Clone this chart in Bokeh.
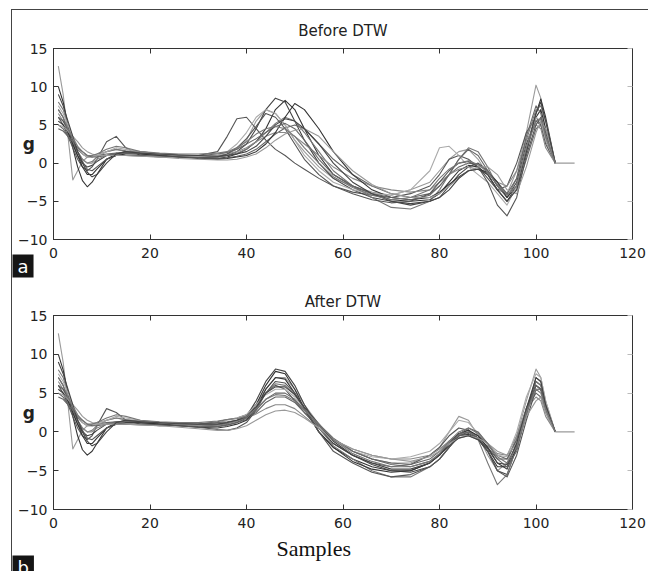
from bokeh.plotting import figure
from bokeh.layouts import column
from bokeh.models import LinearAxis, Range1d, FixedTicker, Title
from bokeh.embed import file_html
from bokeh.resources import INLINE

# ---------------- data ----------------
SAMPLES = [1, 2, 3, 4, 5, 6, 7, 8, 9, 11, 13, 15, 18, 22, 26, 30, 34, 36, 38, 40, 42, 44, 46, 48,
           50, 52, 55, 58, 62, 66, 70, 74, 78, 80, 82, 84, 86, 88, 90, 92, 94, 96, 98, 100, 101, 102, 104]
TAIL_X = [104, 108]
TAIL_Y = [0, 0]

X_TICKS = [0, 20, 40, 60, 80, 100, 120]
Y_TICKS = [-10, -5, 0, 5, 10, 15]

before_01 = [12.7, 9, 3.5, -2.2, -1.0, 0.2, 0.8, 1.0, 1.2, 1.5, 1.8, 1.5, 1.2, 1.0, 0.9, 0.8, 0.9, 1.2, 1.8, 3.0, 5.5, 7.0, 6.5, 5.0,
             3.0, 1.5, -0.5, -2.0, -3.0, -3.8, -4.2, -3.5, -2.5, -1.0, 0.5, 1.5, 1.8, 0.5, -1.5, -3.5, -4.0, -1.0, 4.0, 10.2, 8.5, 4.0, 0]
before_02 = [10, 8, 5, 2, -0.5, -2.3, -3.1, -2.5, -1.5, 0.5, 1.2, 1.5, 1.5, 1.2, 1.0, 0.8, 0.6, 0.8, 1.2, 1.8, 2.8, 4.5, 7.0, 8.2,
             7.0, 4.5, 1.0, -1.5, -3.0, -4.0, -4.8, -5.0, -4.8, -4.0, -2.5, -1.0, -0.3, -0.5, -1.5, -3.5, -5.0, -3.0, 2.0, 6.5, 8.4, 6.0, 0]
before_03 = [6, 5, 3.5, 2, 0.5, -0.5, -1.0, -0.5, 0.5, 2.8, 3.5, 2.0, 1.0, 0.8, 0.9, 1.0, 1.5, 3.5, 5.8, 6.0, 4.5, 3.0, 1.8, 1.0,
             0.0, -0.8, -2.0, -3.0, -3.8, -4.2, -4.5, -4.0, -3.0, -1.5, 0.5, 1.0, 0.5, -0.5, -2.0, -3.5, -3.0, 0.0, 4.0, 6.0, 5.0, 2.5, 0]
before_04 = [7, 6, 4, 2.5, 1.0, 0.0, -0.5, -0.3, 0.2, 1.0, 1.3, 1.3, 1.3, 1.1, 0.9, 0.8, 0.8, 1.0, 1.5, 2.5, 4.5, 7.0, 8.5, 8.0,
             5.5, 3.0, 0.0, -2.0, -3.5, -4.5, -5.0, -5.5, -5.0, -4.5, -3.0, -1.5, -0.5, 0.0, -1.0, -3.0, -4.5, -2.5, 2.5, 5.5, 5.0, 3.0, 0]
before_05 = [5, 4.5, 3.5, 2.5, 1.8, 1.2, 0.8, 0.8, 1.0, 1.2, 1.3, 1.3, 1.2, 1.0, 0.8, 0.7, 0.6, 0.7, 0.9, 1.2, 1.8, 2.8, 3.8, 4.6,
             5.0, 4.5, 2.5, 0.5, -1.5, -3.0, -4.0, -4.5, -4.0, -3.0, -1.5, -0.5, 0.0, -0.2, -1.0, -2.5, -4.0, -3.5, 0.5, 4.5, 5.0, 3.0, 0]
before_06 = [8, 7, 5, 3, 1.5, 0.5, 0.0, 0.2, 0.8, 1.5, 1.8, 1.6, 1.4, 1.2, 1.0, 0.9, 0.8, 1.0, 1.3, 1.8, 2.8, 4.0, 5.2, 6.0,
             5.5, 4.0, 1.5, -1.0, -3.0, -4.5, -5.8, -6.0, -5.0, -3.5, -1.5, 0.5, 2.0, 1.5, -0.5, -3.0, -4.5, -2.0, 3.0, 7.0, 7.5, 5.5, 0]
before_07 = [6.5, 5.5, 4.0, 2.5, 1.5, 0.5, 0.0, 0.0, 0.5, 1.0, 1.2, 1.0, 0.9, 0.8, 0.8, 0.8, 1.0, 1.2, 1.5, 2.0, 2.8, 3.5, 4.0, 4.0,
             3.5, 2.5, 1.0, -0.5, -2.0, -3.0, -3.5, -3.8, -3.5, -2.5, -1.5, -0.8, -0.5, -0.8, -1.5, -2.5, -3.0, -1.0, 3.0, 5.0, 4.5, 2.0, 0]
before_08 = [5.5, 5.0, 4.0, 2.5, 1.0, -0.5, -1.5, -1.5, -0.8, 0.5, 1.0, 1.2, 1.2, 1.0, 0.8, 0.6, 0.5, 0.6, 0.8, 1.0, 1.5, 2.5, 4.0, 6.0,
             7.8, 7.0, 4.5, 1.5, -1.5, -3.5, -4.5, -4.8, -4.5, -3.8, -2.8, -1.8, -1.0, -0.8, -1.2, -2.5, -4.5, -3.0, 1.5, 6.0, 7.0, 4.5, 0]
before_09 = [7.5, 6.5, 5.0, 3.5, 2.2, 1.2, 0.8, 0.8, 1.0, 1.5, 2.0, 1.8, 1.5, 1.2, 1.0, 0.9, 1.0, 1.5, 2.5, 4.0, 6.0, 7.0, 6.5, 5.0,
             3.0, 1.0, -1.0, -2.5, -3.5, -4.0, -4.2, -3.5, -1.0, 2.0, 2.2, 1.0, -0.5, -1.5, -2.5, -4.0, -5.5, -3.0, 2.0, 6.0, 5.5, 3.0, 0]
before_10 = [6.0, 5.5, 4.5, 3.0, 1.5, 0.2, -0.8, -1.0, -0.5, 0.5, 1.0, 1.0, 1.0, 0.9, 0.8, 0.7, 0.8, 1.2, 2.0, 3.2, 4.8, 6.5, 6.0, 4.5,
             2.5, 0.5, -1.5, -3.0, -4.0, -4.8, -5.2, -5.0, -4.0, -2.5, -1.0, 0.0, 0.2, -0.5, -2.5, -5.5, -6.9, -4.5, 1.0, 5.0, 6.0, 4.0, 0]
before_11 = [4.5, 4.2, 3.5, 2.8, 2.0, 1.5, 1.0, 0.8, 0.8, 1.0, 1.2, 1.3, 1.3, 1.2, 1.0, 1.0, 1.2, 1.4, 1.8, 2.5, 3.2, 4.0, 4.8, 5.2,
             4.5, 3.0, 0.5, -1.5, -3.0, -4.0, -4.5, -4.8, -4.2, -3.0, -1.5, 0.5, 1.8, 1.0, -1.0, -3.0, -4.0, -2.0, 3.5, 7.5, 6.5, 3.5, 0]
before_12 = [5.0, 4.8, 4.2, 3.5, 2.8, 2.0, 1.5, 1.2, 1.0, 1.0, 1.0, 1.0, 0.9, 0.8, 0.6, 0.5, 0.4, 0.4, 0.5, 0.8, 1.2, 2.0, 3.0, 3.8,
             4.3, 4.5, 3.5, 1.5, -1.0, -2.8, -4.0, -4.5, -4.5, -4.0, -3.0, -2.0, -1.0, -0.5, -0.5, -1.5, -3.5, -4.0, -0.5, 4.0, 5.5, 4.5, 0]
before_13 = [9.0, 7.5, 5.5, 3.5, 1.5, 0.0, -1.2, -1.8, -1.5, 0.0, 1.2, 1.5, 1.3, 1.2, 1.1, 1.0, 0.9, 1.0, 1.2, 1.5, 2.2, 3.5, 5.0, 5.8,
             5.5, 4.5, 2.5, 0.0, -2.5, -4.0, -5.0, -5.3, -5.0, -4.5, -3.5, -2.0, -1.0, -0.8, -1.5, -3.5, -5.0, -3.5, 1.5, 6.5, 8.0, 5.5, 0]
before_14 = [7.0, 6.0, 4.5, 3.2, 2.2, 1.5, 1.0, 1.0, 1.2, 1.8, 2.2, 2.0, 1.5, 1.3, 1.2, 1.2, 1.3, 1.5, 2.0, 2.8, 3.8, 4.5, 4.8, 4.5,
             3.5, 2.0, 0.0, -1.8, -3.2, -4.2, -4.8, -4.5, -3.5, -2.0, -0.8, 0.0, 0.3, -0.2, -1.2, -2.8, -4.2, -3.0, 2.0, 5.5, 5.8, 3.5, 0]

after_01 = [12.7, 9, 3.5, -2.2, -1.0, 0.2, 0.8, 1.0, 1.2, 1.5, 1.8, 1.5, 1.2, 1.0, 0.9, 0.8, 1.0, 1.2, 1.5, 2.2, 3.5, 5.5, 7.0, 7.0,
            5.5, 3.5, 1.0, -1.0, -2.5, -3.5, -4.0, -4.0, -3.0, -2.0, 0.0, 2.0, 1.5, -0.5, -3.0, -5.0, -4.0, -0.5, 4.0, 8.1, 7.0, 4.0, 0]
after_02 = [10, 8, 5, 2, -0.5, -2.3, -3.0, -2.5, -1.5, 0.5, 1.2, 1.5, 1.4, 1.2, 1.0, 0.8, 0.7, 0.9, 1.2, 1.8, 3.5, 6.0, 7.8, 7.5,
            5.5, 3.0, 0.0, -2.0, -3.5, -4.5, -5.0, -5.0, -4.0, -3.0, -1.5, -0.5, -0.3, -1.0, -2.5, -4.5, -4.5, -1.5, 3.0, 6.5, 6.0, 3.5, 0]
after_03 = [6, 5, 3.5, 2, 0.5, -0.5, -1.0, -0.5, 0.8, 3.0, 2.5, 1.5, 1.0, 0.8, 0.9, 1.0, 1.3, 1.6, 1.8, 2.2, 3.5, 5.0, 6.0, 5.5,
            4.0, 2.5, 0.5, -1.5, -3.0, -4.0, -4.5, -4.2, -3.0, -2.0, -0.5, 0.5, 0.2, -0.8, -2.0, -3.5, -3.5, -1.0, 3.0, 6.0, 5.5, 3.0, 0]
after_04 = [7, 6, 4, 2.5, 1.0, 0.0, -0.5, -0.3, 0.2, 1.0, 1.3, 1.3, 1.3, 1.1, 0.9, 0.8, 0.9, 1.1, 1.4, 2.0, 4.0, 6.5, 8.1, 7.8,
            6.0, 3.5, 0.5, -1.5, -3.0, -4.2, -5.0, -5.2, -4.5, -3.5, -2.0, -0.5, 0.0, -0.8, -2.5, -5.0, -5.5, -2.0, 2.5, 7.0, 6.5, 3.5, 0]
after_05 = [5, 4.5, 3.5, 2.5, 1.8, 1.2, 0.8, 0.8, 1.0, 1.2, 1.3, 1.3, 1.2, 1.0, 0.8, 0.7, 0.7, 0.9, 1.2, 1.6, 2.5, 3.8, 4.5, 4.5,
            3.8, 2.5, 0.8, -1.0, -2.5, -3.5, -4.0, -4.2, -3.5, -2.5, -1.2, -0.3, 0.0, -0.5, -1.5, -3.0, -3.5, -1.0, 3.0, 5.0, 4.5, 2.5, 0]
after_06 = [8, 7, 5, 3, 1.5, 0.5, 0.0, 0.2, 0.8, 1.5, 1.8, 1.6, 1.4, 1.2, 1.0, 0.9, 0.9, 1.1, 1.4, 2.0, 3.2, 5.0, 6.2, 6.0,
            4.8, 3.0, 0.5, -1.8, -3.5, -5.0, -5.8, -5.8, -4.5, -3.5, -2.0, -0.5, 0.3, -1.0, -4.0, -6.8, -5.5, -2.0, 2.0, 6.5, 6.0, 3.5, 0]
after_07 = [6.5, 5.5, 4.0, 2.5, 1.5, 0.5, 0.0, 0.0, 0.5, 1.0, 1.2, 1.0, 0.9, 0.8, 0.8, 0.8, 1.0, 1.2, 1.4, 1.8, 2.3, 3.0, 3.5, 3.5,
            3.0, 2.0, 0.5, -1.0, -2.2, -3.0, -3.5, -3.5, -3.0, -2.2, -1.2, -0.5, -0.5, -1.0, -1.8, -2.8, -3.0, -0.5, 3.0, 4.5, 4.0, 2.0, 0]
after_08 = [5.5, 5.0, 4.0, 2.5, 1.0, -0.5, -1.5, -1.5, -0.8, 0.5, 1.0, 1.2, 1.2, 1.0, 0.8, 0.6, 0.5, 0.7, 1.0, 1.5, 3.0, 5.5, 7.0, 6.8,
            5.0, 3.0, 0.0, -2.0, -3.8, -4.8, -5.2, -5.0, -4.0, -3.0, -1.5, -0.2, 0.2, -0.5, -2.0, -4.0, -4.8, -2.0, 2.5, 6.0, 5.5, 3.0, 0]
after_09 = [7.5, 6.5, 5.0, 3.5, 2.2, 1.2, 0.8, 0.8, 1.0, 1.5, 2.0, 1.8, 1.5, 1.2, 1.0, 0.9, 1.2, 1.5, 1.8, 2.2, 3.5, 4.8, 5.5, 5.5,
            4.5, 3.0, 1.0, -1.0, -2.5, -3.2, -3.5, -3.2, -2.5, -1.5, 0.0, 1.5, 1.2, -0.2, -1.5, -3.0, -3.2, 0.0, 4.5, 7.5, 7.0, 4.0, 0]
after_10 = [6.0, 5.5, 4.5, 3.0, 1.5, 0.2, -0.8, -1.0, -0.5, 0.5, 1.0, 1.0, 1.0, 0.9, 0.8, 0.6, 0.3, 0.2, 0.5, 1.2, 2.8, 5.0, 6.5, 6.3,
            5.0, 3.0, 0.0, -2.5, -4.0, -5.2, -5.8, -5.5, -4.5, -3.5, -2.0, -0.5, -0.2, -0.8, -2.5, -5.0, -5.8, -3.0, 1.5, 5.5, 5.5, 3.0, 0]
after_11 = [4.5, 4.2, 3.5, 2.8, 2.0, 1.5, 1.0, 0.8, 0.8, 1.0, 1.2, 1.3, 1.3, 1.2, 1.0, 1.0, 1.2, 1.3, 1.5, 1.8, 2.8, 4.2, 5.0, 5.0,
            4.2, 2.8, 1.0, -0.8, -2.5, -3.5, -4.2, -4.5, -3.8, -2.8, -1.5, -0.3, 0.5, 0.0, -1.5, -3.5, -4.5, -2.5, 2.5, 6.0, 5.5, 3.0, 0]
after_12 = [5.0, 4.8, 4.2, 3.5, 2.8, 2.0, 1.5, 1.2, 1.0, 1.0, 1.0, 1.0, 0.9, 0.8, 0.6, 0.4, 0.2, 0.2, 0.4, 0.8, 1.5, 2.2, 2.7, 2.8,
            2.5, 1.8, 0.5, -1.0, -2.2, -3.0, -3.5, -3.8, -3.2, -2.5, -1.5, -0.8, -0.5, -0.8, -1.5, -2.5, -3.0, -1.5, 2.0, 4.0, 4.5, 2.5, 0]
after_13 = [9.0, 7.5, 5.5, 3.5, 1.5, 0.0, -1.2, -1.8, -1.5, 0.0, 1.2, 1.5, 1.3, 1.2, 1.1, 1.0, 1.0, 1.2, 1.5, 2.0, 3.2, 5.0, 5.8, 5.8,
            4.8, 3.2, 1.0, -1.2, -3.0, -4.0, -4.8, -4.8, -4.0, -3.0, -1.8, -0.8, -0.5, -1.0, -2.2, -4.0, -4.2, -1.5, 3.0, 7.0, 6.5, 3.5, 0]
after_14 = [7.0, 6.0, 4.5, 3.2, 2.2, 1.5, 1.0, 1.0, 1.2, 1.8, 2.2, 2.0, 1.5, 1.3, 1.2, 1.2, 1.4, 1.6, 1.7, 2.0, 3.0, 4.2, 4.8, 4.7,
            4.0, 2.8, 1.0, -1.0, -2.8, -3.8, -4.5, -4.5, -3.8, -2.8, -1.2, 0.0, 0.5, -0.2, -1.5, -3.2, -4.0, -2.0, 2.5, 5.5, 5.0, 3.0, 0]

BEFORE = [before_01, before_02, before_03, before_04, before_05, before_06, before_07,
          before_08, before_09, before_10, before_11, before_12, before_13, before_14]
AFTER = [after_01, after_02, after_03, after_04, after_05, after_06, after_07,
         after_08, after_09, after_10, after_11, after_12, after_13, after_14]

# ---------------- styles ----------------
SHADES = ["#9a9a9a", "#333333", "#555555", "#444444", "#666666", "#777777", "#888888",
          "#333333", "#aaaaaa", "#555555", "#666666", "#999999", "#444444", "#777777"]
AX = "#333333"
TXT = "#222222"
SANS = "DejaVu Sans"


def panel(curves, title, height, top, bottom, title_standoff):
    p = figure(width=636, height=height, x_range=Range1d(0, 120), y_range=Range1d(-10, 15),
               output_backend="svg", toolbar_location=None,
               min_border_left=41, min_border_right=16, min_border_top=top, min_border_bottom=bottom,
               background_fill_color="white", border_fill_color="white")
    p.title.text = title
    p.title.align = "center"
    p.title.text_font = SANS
    p.title.text_font_size = "15px"
    p.title.text_font_style = "normal"
    p.title.text_color = TXT
    p.title.standoff = title_standoff
    p.xgrid.grid_line_color = None
    p.ygrid.grid_line_color = None
    p.outline_line_color = AX
    p.add_layout(LinearAxis(), "above")
    p.add_layout(LinearAxis(), "right")
    for ax in p.xaxis:
        ax.ticker = FixedTicker(ticks=X_TICKS)
    for ax in p.yaxis:
        ax.ticker = FixedTicker(ticks=Y_TICKS)
    for ax in p.axis:
        ax.major_tick_in = 5
        ax.major_tick_out = 0
        ax.minor_tick_line_color = None
        ax.axis_line_color = AX
        ax.major_tick_line_color = AX
        ax.major_label_text_font = SANS
        ax.major_label_text_font_size = "14px"
        ax.major_label_text_color = TXT
    p.below[0].major_label_standoff = 8
    left = p.left[0]
    left.major_label_standoff = 6
    left.axis_label = "g"
    left.axis_label_text_font = SANS
    left.axis_label_text_font_size = "17px"
    left.axis_label_text_font_style = "bold"
    left.axis_label_text_color = TXT
    left.axis_label_standoff = -20
    try:
        left.axis_label_orientation = "horizontal"
    except Exception:
        pass
    for ax in (p.above[-1], p.right[0]):
        ax.major_label_text_color = None
        ax.major_label_text_font_size = "1px"
        ax.major_label_standoff = 0
    p.right[0].major_tick_line_color = "#bbbbbb"

    for ys, c in zip(curves, SHADES):
        p.line(SAMPLES, ys, line_color=c, line_width=1.1, line_join="round")
    p.line(TAIL_X, TAIL_Y, line_color="#9a9a9a", line_width=1.1)
    return p


def tag(text, standoff):
    return Title(text=text, align="left", offset=-41, standoff=standoff,
                 text_font=SANS, text_font_size="18px", text_font_style="normal",
                 text_color="white", background_fill_color="#151515", padding=(5, 1))


p1 = panel(BEFORE, "Before DTW", 275, 38, 46, 18)
p2 = panel(AFTER, "After DTW", 286, 30, 62, 10)

p1.add_layout(tag("a", -16), "below")
p2.add_layout(Title(text="Samples", align="left", offset=223, standoff=7,
                    text_font="Liberation Serif", text_font_size="22px", text_font_style="normal",
                    text_color="#111111"), "below")
p2.add_layout(tag("b", -22), "below")

page = column(p1, p2, margin=(9, 0, 0, 11),
              styles={"border-left": "1px solid #444", "border-top": "1px solid #444"})

open("out.html", "w").write(file_html(page, INLINE))
